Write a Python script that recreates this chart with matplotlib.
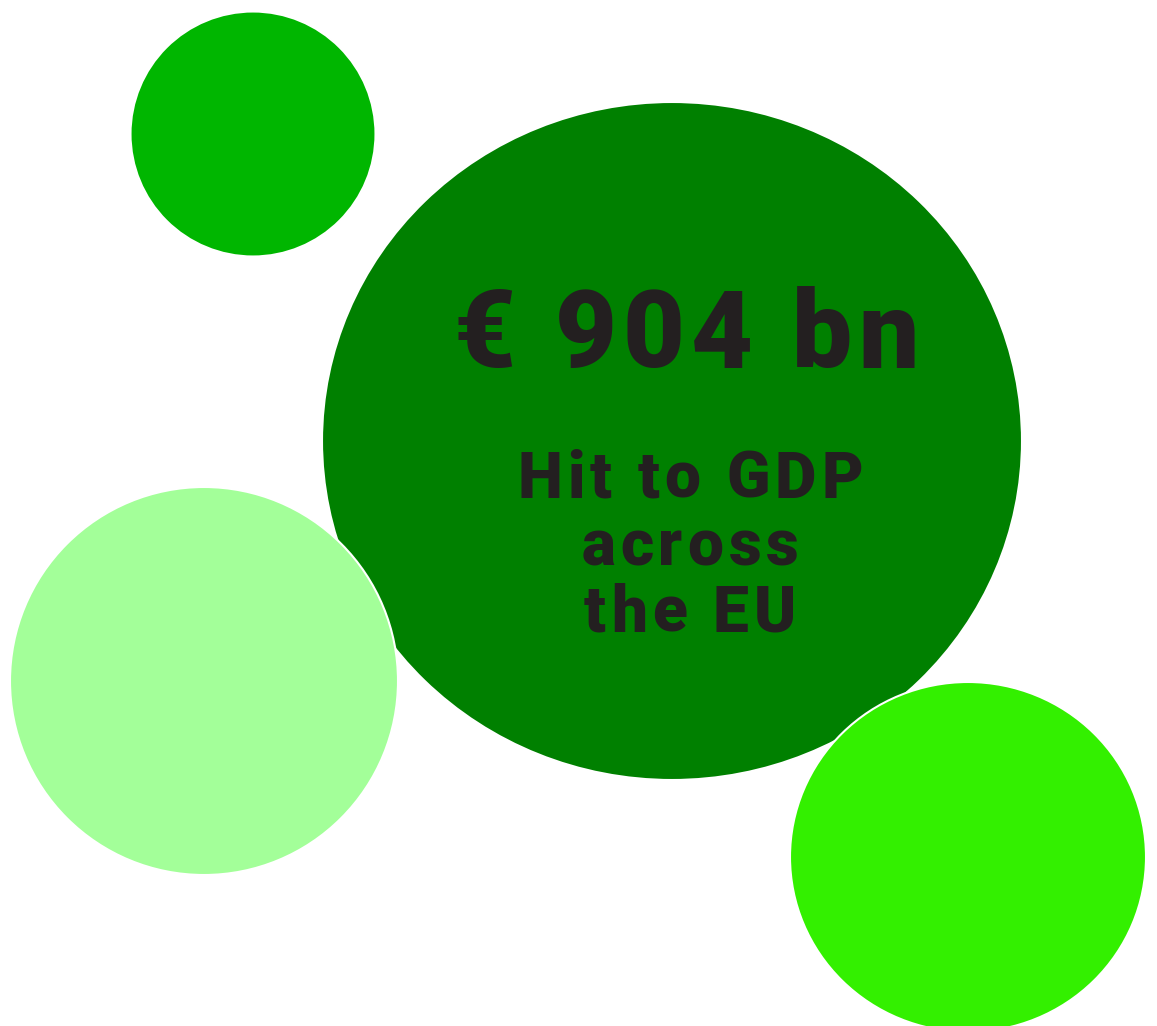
import matplotlib
matplotlib.use("Agg")
import matplotlib.pyplot as plt
from matplotlib.patches import Ellipse

# bubble data
labels = ["main", "small", "light", "bright"]
widths = [700, 245, 388, 356]
heights = [678, 245, 388, 350]
colors = ["#008000", "#00b600", "#a3ff99", "#33f000"]

headline = "€ 904 bn"
subtitle = ["Hit to GDP", "across", "the EU"]

# layout (pixel coords, y downward)
centers = [(672, 441), (253, 134), (204, 681), (968, 857)]
order = [1, 0, 2, 3]

fig = plt.figure(figsize=(11.57, 10.26), dpi=100)
ax = fig.add_axes([0, 0, 1, 1])
ax.set_xlim(0, 1157)
ax.set_ylim(1026, 0)
ax.axis('off')

for i in order:
    e = Ellipse(centers[i], widths[i], heights[i], facecolor=colors[i],
                edgecolor='white', linewidth=1.5, zorder=i + 1)
    ax.add_patch(e)

fig.canvas.draw()
renderer = fig.canvas.get_renderer()


def spaced_text(s, cx, cy, size, spacing):
    # draw characters one by one to get letter spacing
    parts = []
    for ch in s:
        t = ax.text(0, 0, ch, fontsize=size, fontfamily='Roboto',
                    fontweight='black', color='#231f20', zorder=10,
                    ha='left', va='center')
        w = t.get_window_extent(renderer).width if ch != ' ' else size * 0.35
        parts.append((t, w))
    total = sum(w for _, w in parts) + spacing * (len(parts) - 1)
    x = cx - total / 2
    for t, w in parts:
        t.set_position((x, cy))
        x += w + spacing


spaced_text(headline, 686, 338, 77, 6)
for k, line in enumerate(subtitle):
    spaced_text(line, 690, 480 + k * 67, 46, 5)

fig.savefig("out.png", dpi=100)
